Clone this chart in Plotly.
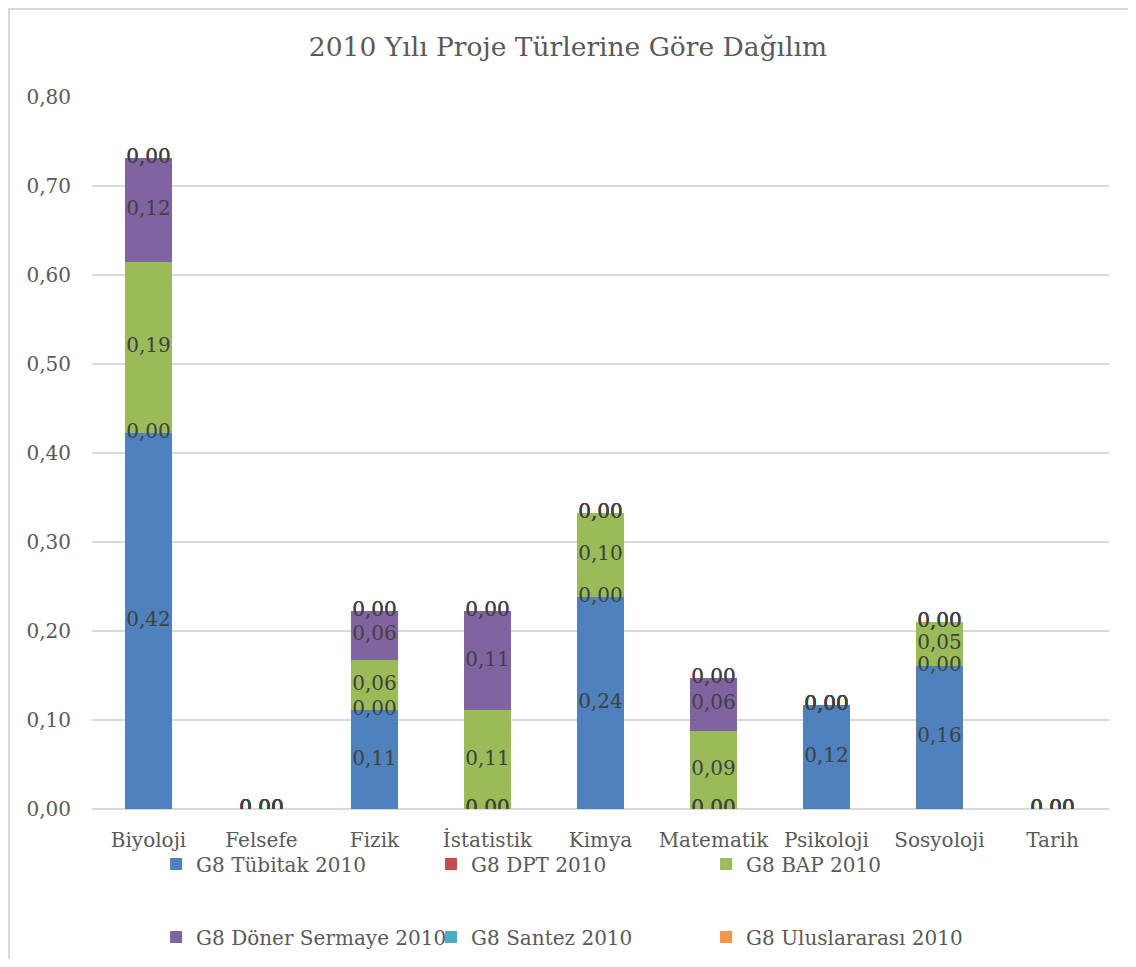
import plotly.graph_objects as go

bolumler = ['Biyoloji', 'Felsefe', 'Fizik', 'İstatistik', 'Kimya', 'Matematik', 'Psikoloji', 'Sosyoloji', 'Tarih']

tubitak = [0.423, 0, 0.111, 0, 0.238, 0, 0.117, 0.161, 0]
dpt = [0, 0, 0, 0, 0, 0, 0, 0, 0]
bap = [0.192, 0, 0.056, 0.111, 0.095, 0.088, 0, 0.049, 0]
doner = [0.117, 0, 0.056, 0.111, 0, 0.059, 0, 0, 0]
santez = [0, 0, 0, 0, 0, 0, 0, 0, 0]
uluslararasi = [0, 0, 0, 0, 0, 0, 0, 0, 0]

seriler = [
    ('G8 Tübitak 2010', tubitak, '#4F81BD', 'legend'),
    ('G8 DPT 2010', dpt, '#C0504D', 'legend'),
    ('G8 BAP 2010', bap, '#9BBB59', 'legend'),
    ('G8 Döner Sermaye 2010', doner, '#8064A2', 'legend2'),
    ('G8 Santez 2010', santez, '#4BACC6', 'legend2'),
    ('G8 Uluslararası 2010', uluslararasi, '#F79646', 'legend2'),
]

FONT = 'DejaVu Serif'

fig = go.Figure()
taban = [0] * len(bolumler)
etiketler = []
for ad, deger, renk, leg in seriler:
    fig.add_trace(go.Bar(x=bolumler, y=deger, name=ad, marker_color=renk,
                         marker_line_width=0, legend=leg))
    orta = [b + d / 2 for b, d in zip(taban, deger)]
    etiketler.append((orta, deger))
    taban = [b + d for b, d in zip(taban, deger)]

# veri etiketleri (sifirlar dahil, Excel gibi)
for orta, deger in etiketler:
    fig.add_trace(go.Scatter(x=bolumler, y=orta, customdata=deger, mode='text',
                             texttemplate='%{customdata:.2f}', textposition='middle center',
                             textfont=dict(family=FONT, size=20, color='#404040'),
                             showlegend=False, hoverinfo='skip'))

# grafik cercevesi
fig.add_shape(type='rect', xref='paper', yref='paper', x0=-0.0816, x1=1.2, y0=-0.3, y1=1.1236,
              line=dict(color='#d9d9d9', width=2), layer='below')

leg_font = dict(family=FONT, size=20, color='#595959')

fig.update_layout(
    width=1120, height=951,
    barmode='stack', bargap=0.59,
    separators=',.',
    paper_bgcolor='white', plot_bgcolor='white',
    margin=dict(l=84, r=19, t=89, b=150, autoexpand=False),
    title=dict(text='2010 Yılı Proje Türlerine Göre Dağılım', x=0.5, xanchor='center',
               y=0.959, yanchor='middle', font=dict(family=FONT, size=26.5, color='#595959')),
    font=dict(family=FONT, size=20, color='#595959'),
    xaxis=dict(showgrid=False, showline=False, ticks='', ticklabelstandoff=17,
               tickfont=dict(size=20, color='#595959')),
    yaxis=dict(range=[0, 0.8], dtick=0.1, tickformat='.2f', showgrid=True, gridcolor='#d9d9d9',
               gridwidth=1.5, zeroline=True, zerolinecolor='#d9d9d9', zerolinewidth=1.5,
               ticks='', ticklabelstandoff=20, tickfont=dict(size=20, color='#595959')),
    legend=dict(orientation='h', x=0.063, y=0.0999, xanchor='left', yanchor='middle', yref='container',
                entrywidth=230, entrywidthmode='pixels', itemclick=False,
                bgcolor='rgba(0,0,0,0)', font=leg_font, traceorder='normal'),
    legend2=dict(orientation='h', x=0.063, y=0.0231, xanchor='left', yanchor='middle', yref='container',
                 entrywidth=230, entrywidthmode='pixels', itemclick=False,
                 bgcolor='rgba(0,0,0,0)', font=leg_font, traceorder='normal'),
)

fig.write_html('out.html')
